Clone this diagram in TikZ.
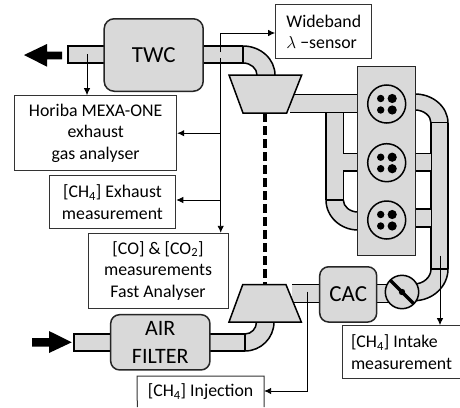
\documentclass[tikz,border=0pt]{standalone}
\usepackage{fontspec}
\setmainfont{Carlito}
\usetikzlibrary{arrows.meta,calc}
\definecolor{pipegray}{HTML}{D9D9D9}
\tikzset{
  pipefill/.style={fill=pipegray,draw=none},
  pipeline/.style={draw=black,line width=1.5pt},
  unit/.style={draw=black!85,line width=1.5pt,fill=pipegray,rounded corners=9pt,inner sep=0pt,align=center},
  infobox/.style={draw=black!80,line width=1pt,fill=white,inner sep=0pt,align=center,font=\fontsize{17.8}{21.5}\selectfont},
  signal/.style={draw=black,line width=.9pt,-{Latex[length=7pt,width=6.5pt]}},
  bigarrow/.style={fill=black,draw=none},
  dotm/.style={fill=black,draw=none}
}
% horizontal or vertical straight pipe: corners and the two walls
\newcommand{\pipeH}[4]{\fill[pipefill] (#1,#3) rectangle (#2,#4);
  \draw[pipeline] (#1,#3) -- (#2,#3); \draw[pipeline] (#1,#4) -- (#2,#4);}
\newcommand{\pipeV}[4]{\fill[pipefill] (#3,#1) rectangle (#4,#2);
  \draw[pipeline] (#3,#1) -- (#3,#2); \draw[pipeline] (#4,#1) -- (#4,#2);}
% bend: outer start, outer corner, outer end, inner start, inner corner, inner end
\newcommand{\bendpipe}[6]{
  \fill[pipefill] (#1) .. controls ($(#1)!.55!(#2)$) and ($(#3)!.55!(#2)$) .. (#3) -- (#6)
     .. controls ($(#6)!.55!(#5)$) and ($(#4)!.55!(#5)$) .. (#4) -- cycle;
  \draw[pipeline] (#1) .. controls ($(#1)!.55!(#2)$) and ($(#3)!.55!(#2)$) .. (#3);
  \draw[pipeline] (#4) .. controls ($(#4)!.55!(#5)$) and ($(#6)!.55!(#5)$) .. (#6);}
\newcommand{\cylinder}[3]{
  \draw[pipeline,fill=pipegray] (#1,#2) circle[radius=19pt];
  \fill[dotm] (#1-6,#2-5.5) circle[radius=3.7pt];
  \fill[dotm] (#1+5.5,#2-5.5) circle[radius=4.6pt];
  \fill[dotm] (#1-6,#2+6) circle[radius=3.7pt];
  \fill[dotm] (#1+5.5,#2+6) circle[radius=4.6pt];
  \coordinate (#3) at (#1,#2);}
\begin{document}
\begin{tikzpicture}[x=1pt,y=-1pt]
\useasboundingbox (0,0) rectangle (460,407);
\fill[white] (0,0) rectangle (460,407);

% big flow arrows
\fill[bigarrow] (24,55) -- (47,44) -- (47,51.7) -- (62,51.7) -- (62,59.3) -- (47,59.3) -- (47,66.7) -- cycle;
\fill[bigarrow] (71.7,342.3) -- (49,331) -- (49,338) -- (32,338) -- (32,346.7) -- (49,346.7) -- (49,353) -- cycle;

% exhaust pipes
\fill[pipefill] (68,46) rectangle (106,63);
\draw[pipeline] (106,46) -- (68,46) -- (68,63) -- (106,63);
\pipeH{202}{243}{46}{63}
\bendpipe{243,46}{275,46}{275,75}{243,63}{257,63}{257,75}
\draw[pipeline] (243,46) -- (243,63);

% turbine outlet and exhaust manifold
\pipeH{290}{358}{94.5}{112.7}
\pipeV{112.7}{200}{326}{343.3}
\fill[pipefill] (326.8,100) rectangle (342.5,112);
\draw[pipeline] (326,112.7) -- (343.3,112.7);
\pipeH{343}{358}{153.5}{171}
\bendpipe{326,200}{326,230}{358,230}{343.3,200}{343.3,212}{358,212}
\draw[pipeline] (326,200) -- (343.3,200);

% intake manifold
\bendpipe{415,94}{448,94}{448,123}{415,110}{431,110}{431,123}
\draw[pipeline] (431,123) -- (448,123);
\pipeV{123}{269}{431}{448}
\pipeH{415}{431}{153.5}{171}
\pipeH{415}{431}{209}{227}
\bendpipe{448,269}{448,300.7}{414,300.7}{431,269}{431,284}{414,284}
\draw[pipeline] (431,269) -- (448,269);

% charge air path
\pipeH{292}{321}{284.7}{302.7}
\pipeH{376}{392}{284.7}{302.7}

% air path
\pipeH{209}{245}{334}{351}
\bendpipe{245,351}{274,351}{274,322}{245,334}{256.5,334}{256.5,322}
\draw[pipeline] (245,334) -- (245,351);
\fill[pipefill] (74,334) rectangle (112,351);
\draw[pipeline] (112,334) -- (74,334) -- (74,351) -- (112,351);

% shaft
\coordinate (turbBottom) at (265,113);
\coordinate (compTop) at (265,285);
\draw[line width=3.4pt,dash pattern=on 9pt off 4pt] (turbBottom) -- (compTop);

% turbine and compressor
\draw[pipeline,fill=pipegray,line join=miter] (229,75) -- (301.7,75) -- (286.7,113) -- (243,113) -- cycle;
\draw[pipeline,fill=pipegray,line join=miter] (242.7,284.7) -- (286,284.7) -- (301.3,322) -- (229,322) -- cycle;

% engine block
\node[draw=black!85,line width=1.5pt,fill=pipegray,minimum width=58.4pt,minimum height=189.2pt,inner sep=0pt] (engine) at (386.5,161.1) {};
\cylinder{386.7}{104}{cylA}
\cylinder{386.7}{162.7}{cylB}
\cylinder{386.7}{220}{cylC}

% units
\node[unit,minimum width=99pt,minimum height=72.5pt,rounded corners=10pt,font=\fontsize{23}{24}\selectfont] (twc) at (153.7,55) {TWC};
\node[unit,minimum width=99.3pt,minimum height=55.3pt,font=\fontsize{22}{27.5}\selectfont] (filter) at (160.3,342.3) {AIR\\FILTER};
\node[unit,minimum width=57pt,minimum height=55.3pt,font=\fontsize{23}{24}\selectfont] (cac) at (348.2,294.4) {CAC};

% throttle
\node[draw=black,line width=1.5pt,fill=pipegray,circle,minimum size=33.4pt,inner sep=0pt] (throttle) at (402,292) {};
\draw[line width=3.2pt] (390,280) -- (414,304);
\fill[black] (throttle.center) circle[radius=3.2pt];

% information boxes
\node[infobox,align=left,minimum width=96.3pt,minimum height=53.7pt] (lambda) at (323.8,31.8) {Wideband\\$\lambda$ −sensor};
\node[infobox,minimum width=162pt,minimum height=75pt] (horiba) at (95.7,133.2) {Horiba MEXA-ONE\\exhaust\\gas analyser};
\node[infobox,minimum width=126.7pt,minimum height=53pt] (ch4ex) at (112.4,202.2) {[CH\textsubscript{4}] Exhaust\\measurement};
\node[infobox,minimum width=140pt,minimum height=75pt] (cobox) at (158,270.8) {[CO] \& [CO\textsubscript{2}]\\measurements\\Fast Analyser};
\node[infobox,align=left,minimum width=117.5pt,minimum height=53.3pt] (ch4in) at (401.5,352.3) {[CH\textsubscript{4}] Intake\\measurement};
% injection box, cut by the picture's lower edge
\node[inner sep=0pt,font=\fontsize{17.8}{21.5}\selectfont,minimum width=126.7pt,minimum height=31pt] (ch4inj) at (200.6,391.8) {[CH\textsubscript{4}] Injection};
\coordinate (injA) at (ch4inj.north west);
\coordinate (injB) at (ch4inj.north east);
\draw[draw=black!80,line width=1pt] (137.3,407) -- (injA) -- (injB) -- (264,407);

% signal lines
\coordinate (tapA) at (220.7,52);
\coordinate (tapB) at (220.7,58);
\coordinate (tapH) at (87,54);
\coordinate (tapI) at (440,255.7);
\coordinate (tapC) at (307,291.7);
\coordinate (kneeL) at (220.7,33);
\coordinate (kneeJ) at (307,391);
\draw[signal] (tapA) -- (kneeL) -- (kneeL -| lambda.west);
\draw[signal] (tapB) -- (tapB |- cobox.north);
\draw[signal] (tapB |- horiba.east) -- (horiba.east);
\draw[signal] (220.7,200) -- (ch4ex.east |- 220.7,200);
\draw[signal] (tapH) -- (tapH |- horiba.north);
\draw[signal] (tapI) -- (tapI |- ch4in.north);
\draw[signal] (tapC) -- (kneeJ) -- (kneeJ -| injB);
\end{tikzpicture}
\end{document}
